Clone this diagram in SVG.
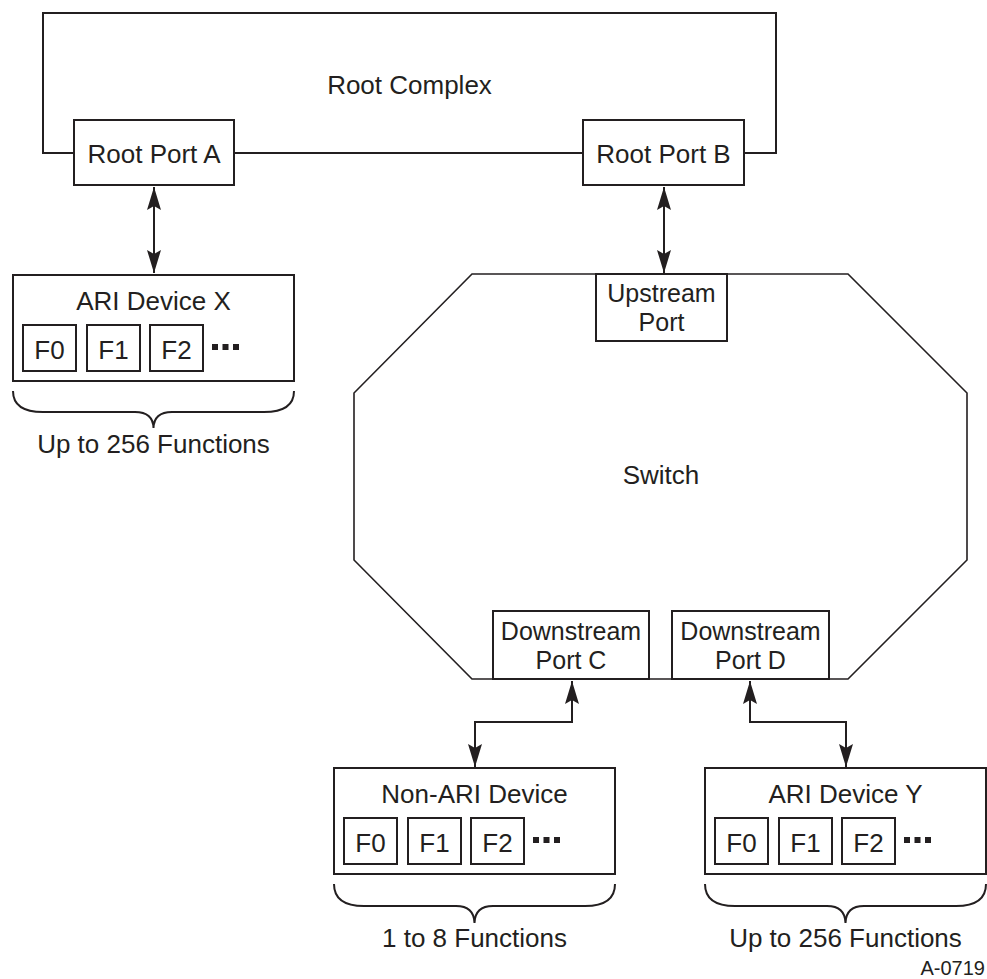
<svg xmlns="http://www.w3.org/2000/svg" width="987" height="979" viewBox="0 0 987 979">
<style>
.box{fill:#fff;stroke:#231f20;stroke-width:2}
.thin{fill:#fff;stroke:#231f20;stroke-width:1.6}
.ln{fill:none;stroke:#231f20;stroke-width:2}
.t{font-family:"Liberation Sans",Arial,sans-serif;font-size:26px;fill:#231f20;text-anchor:middle}
.t2{font-family:"Liberation Sans",Arial,sans-serif;font-size:25px;fill:#231f20;text-anchor:middle}
.s{font-family:"Liberation Sans",Arial,sans-serif;font-size:20px;fill:#231f20;text-anchor:end}
.dot{fill:#231f20}
</style>
<defs>
<marker id="ah" markerUnits="userSpaceOnUse" markerWidth="30" markerHeight="20" viewBox="-25 -10 30 20" refX="0" refY="0" orient="auto-start-reverse">
<path d="M0,0 L-23,-7 L-19,0 L-23,7 Z" fill="#231f20"/>
</marker>
</defs>
<rect width="987" height="979" fill="#fff"/>

<g id="root-complex">
<path class="ln" d="M43,153 V13 H776 V153 Z"/>
<text class="t" x="409.5" y="94">Root Complex</text>
</g>
<g id="root-port-a">
<rect class="box" x="74" y="120" width="160" height="65"/>
<text class="t" x="154" y="163">Root Port A</text>
</g>
<g id="root-port-b">
<rect class="box" x="583" y="120" width="161" height="65"/>
<text class="t" x="663.5" y="163">Root Port B</text>
</g>

<g id="switch">
<polygon class="thin" points="472,274 848,274 967,393 967,560 848,679 472,679 354,560 354,393"/>
<text class="t" x="661" y="484">Switch</text>
</g>
<g id="upstream-port">
<rect class="box" x="596" y="274" width="131" height="67"/>
<text class="t2" x="661.5" y="302">Upstream</text>
<text class="t2" x="661.5" y="331">Port</text>
</g>
<g id="downstream-port-c">
<rect class="box" x="493" y="611" width="156" height="68"/>
<text class="t2" x="571" y="640">Downstream</text>
<text class="t2" x="571" y="669">Port C</text>
</g>
<g id="downstream-port-d">
<rect class="box" x="672" y="611" width="157" height="68"/>
<text class="t2" x="750.5" y="640">Downstream</text>
<text class="t2" x="750.5" y="669">Port D</text>
</g>

<g id="ari-device-x" transform="translate(13,275)">
<rect class="box" x="0" y="0" width="281" height="106"/>
<text class="t" x="140.5" y="35">ARI Device X</text>
<rect class="box" x="10" y="50" width="53" height="46"/>
<rect class="box" x="74" y="50" width="53" height="46"/>
<rect class="box" x="137" y="50" width="53" height="46"/>
<text class="t" x="36.5" y="84">F0</text>
<text class="t" x="100.5" y="84">F1</text>
<text class="t" x="163.5" y="84">F2</text>
<rect class="dot" x="199" y="69" width="6" height="6"/>
<rect class="dot" x="209.5" y="69" width="6" height="6"/>
<rect class="dot" x="220" y="69" width="6" height="6"/>
<path class="ln" d="M0,116 Q0,137 30,137 L122,137 Q140,137 140.5,153 Q141,137 159,137 L251,137 Q281,137 281,116"/>
<text class="t" x="140.5" y="178">Up to 256 Functions</text>
</g>

<g id="non-ari-device" transform="translate(334,768)">
<rect class="box" x="0" y="0" width="281" height="106"/>
<text class="t" x="140.5" y="35">Non-ARI Device</text>
<rect class="box" x="10" y="50" width="53" height="46"/>
<rect class="box" x="74" y="50" width="53" height="46"/>
<rect class="box" x="137" y="50" width="53" height="46"/>
<text class="t" x="36.5" y="84">F0</text>
<text class="t" x="100.5" y="84">F1</text>
<text class="t" x="163.5" y="84">F2</text>
<rect class="dot" x="199" y="69" width="6" height="6"/>
<rect class="dot" x="209.5" y="69" width="6" height="6"/>
<rect class="dot" x="220" y="69" width="6" height="6"/>
<path class="ln" d="M0,116 Q0,138 30,138 L122,138 Q140,138 140.5,155 Q141,138 159,138 L251,138 Q281,138 281,116"/>
<text class="t" x="140.5" y="179">1 to 8 Functions</text>
</g>

<g id="ari-device-y" transform="translate(705,768)">
<rect class="box" x="0" y="0" width="281" height="106"/>
<text class="t" x="140.5" y="35">ARI Device Y</text>
<rect class="box" x="10" y="50" width="53" height="46"/>
<rect class="box" x="74" y="50" width="53" height="46"/>
<rect class="box" x="137" y="50" width="53" height="46"/>
<text class="t" x="36.5" y="84">F0</text>
<text class="t" x="100.5" y="84">F1</text>
<text class="t" x="163.5" y="84">F2</text>
<rect class="dot" x="199" y="69" width="6" height="6"/>
<rect class="dot" x="209.5" y="69" width="6" height="6"/>
<rect class="dot" x="220" y="69" width="6" height="6"/>
<path class="ln" d="M0,116 Q0,138 30,138 L122,138 Q140,138 140.5,155 Q141,138 159,138 L251,138 Q281,138 281,116"/>
<text class="t" x="140.5" y="179">Up to 256 Functions</text>
</g>

<g id="connectors">
<path class="ln" d="M154,187 V273" marker-start="url(#ah)" marker-end="url(#ah)"/>
<path class="ln" d="M664,187 V273" marker-start="url(#ah)" marker-end="url(#ah)"/>
<path class="ln" d="M572,681 V722 H475 V767" marker-start="url(#ah)" marker-end="url(#ah)"/>
<path class="ln" d="M750,681 V722 H846 V767" marker-start="url(#ah)" marker-end="url(#ah)"/>
</g>

<text id="figure-id" class="s" x="985" y="975">A-0719</text>
</svg>
